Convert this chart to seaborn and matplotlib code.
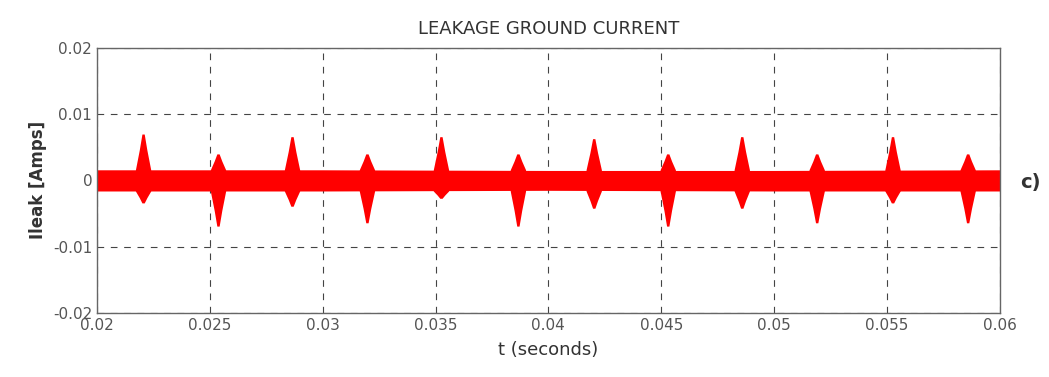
import matplotlib
matplotlib.use("Agg")
import matplotlib.pyplot as plt
import seaborn as sns

# envelope of the steady leakage band (seconds, amps)
band_t = [0.020, 0.030, 0.040, 0.050, 0.060]
band_hi = [0.0016, 0.0016, 0.0015, 0.0015, 0.0016]
band_lo = [-0.0016, -0.0016, -0.0015, -0.0016, -0.0016]

# switching spikes
spike_t = [0.02204, 0.02536, 0.02864, 0.03196, 0.03524, 0.03865,
           0.04201, 0.04529, 0.04857, 0.05189, 0.05525, 0.05858]
spike_hi = [0.0070, 0.0040, 0.0066, 0.0040, 0.0066, 0.0040,
            0.0063, 0.0040, 0.0066, 0.0040, 0.0066, 0.0040]
spike_lo = [-0.0034, -0.0069, -0.0039, -0.0064, -0.0027, -0.0069,
            -0.0042, -0.0069, -0.0042, -0.0064, -0.0034, -0.0064]

x_ticks = [0.02, 0.025, 0.03, 0.035, 0.04, 0.045, 0.05, 0.055, 0.06]
x_labels = ["0.02", "0.025", "0.03", "0.035", "0.04", "0.045", "0.05", "0.055", "0.06"]
y_ticks = [-0.02, -0.01, 0, 0.01, 0.02]
y_labels = ["-0.02", "-0.01", "0", "0.01", "0.02"]

sns.set_theme(style="white")
plt.rcParams['font.family'] = ['DejaVu Sans']

fig = plt.figure(figsize=(10.49, 3.77), dpi=100)
ax = fig.add_axes([0.0925, 0.170, 0.8605, 0.703])

red = "#ff0000"
ax.fill_between(band_t, band_lo, band_hi, color=red, lw=0)

# each burst: quick rise, rounded body, decay back into the band
w = 0.00034
for t, hi, lo in zip(spike_t, spike_hi, spike_lo):
    base_hi, base_lo = band_hi[0], band_lo[0]
    ts = [t - w, t - 0.5 * w, t - 0.15 * w, t + 0.15 * w, t + 0.5 * w, t + w]
    his = [base_hi, base_hi + 0.55 * (hi - base_hi), hi, hi,
           base_hi + 0.55 * (hi - base_hi), base_hi]
    los = [base_lo, base_lo + 0.55 * (lo - base_lo), lo, lo,
           base_lo + 0.55 * (lo - base_lo), base_lo]
    ax.fill_between(ts, los, his, color=red, lw=0)

ax.set_xlim(0.02, 0.06)
ax.set_ylim(-0.02, 0.02)
ax.set_xticks(x_ticks)
ax.set_xticklabels(x_labels)
ax.set_yticks(y_ticks)
ax.set_yticklabels(y_labels)
ax.tick_params(labelsize=11, labelcolor="#555555", length=0)
ax.grid(True, linestyle=(0, (6, 6)), color="#444444", linewidth=0.8)
for s in ax.spines.values():
    s.set_color("#666666")
    s.set_linewidth(1.0)

ax.set_title("LEAKAGE GROUND CURRENT", fontsize=13, color="#333333", pad=10)
ax.set_xlabel("t (seconds)", fontsize=13, color="#333333", labelpad=6)
ax.set_ylabel("Ileak [Amps]", fontsize=12, color="#333333", fontweight="bold")
fig.text(0.972, 0.515, "c)", fontsize=14, fontweight="bold", color="#333333",
         ha="left", va="center")

fig.savefig("out.png", dpi=100)
